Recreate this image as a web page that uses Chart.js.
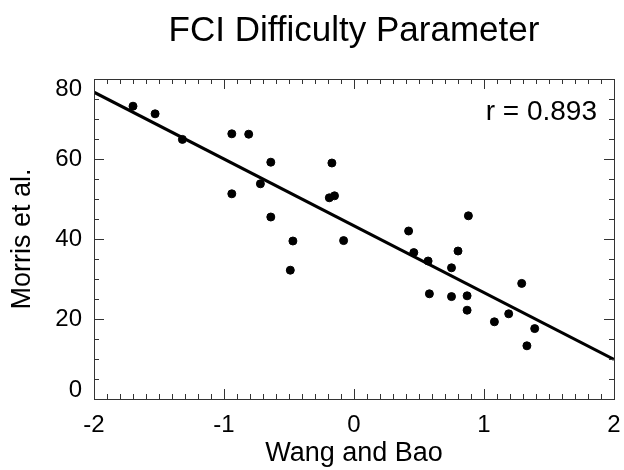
<!DOCTYPE html>
<html>
<head>
<meta charset="utf-8">
<script src="https://cdn.jsdelivr.net/npm/chart.js@4.4.1/dist/chart.umd.min.js"></script>
<style>
  html, body { margin: 0; padding: 0; background: #fff; }
  #wrap { width: 624px; height: 470px; }
</style>
</head>
<body>
<div id="wrap"><canvas id="c" width="624" height="470"></canvas></div>
<script>
// difficulty values, one per FCI item
const wangBao = [-1.70, -1.53, -1.32, -0.94, -0.81, -0.64, -0.72, -0.94, -0.17, -0.19,
                 -0.15, -0.64, -0.47, -0.08, -0.49, 0.42, 0.88, 0.46, 0.57, 0.80,
                 0.75, 0.58, 0.75, 0.87, 0.87, 1.29, 1.08, 1.19, 1.39, 1.33];
const morris  = [73.2, 71.3, 64.9, 66.3, 66.2, 59.2, 53.8, 51.3, 59.0, 50.3,
                 50.8, 45.5, 39.5, 39.6, 32.2, 42.0, 45.8, 36.6, 34.5, 37.0,
                 32.8, 26.3, 25.6, 25.8, 22.2, 28.9, 19.3, 21.3, 17.6, 13.3];
// fitted line, read at the plot edges
const fitX = [-2, 2];
const fitY = [76.7, 9.9];
const yTicks = [0, 20, 40, 60, 80];
const rLabel = 'r = 0.893';
const chartTitle = 'FCI Difficulty Parameter';

const FONT = '"Liberation Sans", Arial, Helvetica, sans-serif';

// inward tick marks on all four sides + box + y labels + texts
const frame = {
  id: 'frame',
  afterDraw(chart) {
    const ctx = chart.ctx;
    const xs = chart.scales.x, ys = chart.scales.y;
    const a = chart.chartArea;
    ctx.save();
    ctx.strokeStyle = '#333';
    ctx.lineWidth = 1;
    ctx.strokeRect(a.left + 0.5, a.top + 0.5, a.right - a.left, a.bottom - a.top);
    ctx.beginPath();
    for (let i = -20; i <= 20; i++) {
      const px = Math.round(xs.getPixelForValue(i / 10)) + 0.5;
      const len = i % 10 === 0 ? 10 : 5;
      ctx.moveTo(px, a.bottom); ctx.lineTo(px, a.bottom - len);
      ctx.moveTo(px, a.top); ctx.lineTo(px, a.top + len);
    }
    for (let v = 0; v <= 80; v += 5) {
      const py = Math.round(ys.getPixelForValue(v)) + 0.5;
      const len = v % 20 === 0 ? 10 : 5;
      ctx.moveTo(a.left, py); ctx.lineTo(a.left + len, py);
      ctx.moveTo(a.right, py); ctx.lineTo(a.right - len, py);
    }
    ctx.stroke();

    ctx.fillStyle = '#000';
    ctx.font = '24px ' + FONT;
    ctx.textAlign = 'right';
    ctx.textBaseline = 'middle';
    yTicks.forEach(v => {
      let py = ys.getPixelForValue(v);
      py = Math.min(Math.max(py, a.top + 10), a.bottom - 9);
      ctx.fillText(String(v), a.left - 12, py);
    });

    ctx.font = '28px ' + FONT;
    ctx.textBaseline = 'alphabetic';
    ctx.fillText(rLabel, 597, 120);

    // title, centred over the plot box
    ctx.font = '35px ' + FONT;
    ctx.textAlign = 'center';
    ctx.fillText(chartTitle, (a.left + a.right) / 2, 41);
    ctx.restore();
  }
};

new Chart(document.getElementById('c'), {
  type: 'scatter',
  data: {
    datasets: [
      {
        label: 'items',
        data: wangBao.map((x, i) => ({ x: x, y: morris[i] })),
        backgroundColor: '#000',
        borderColor: '#000',
        pointRadius: 4,
        pointHoverRadius: 4
      },
      {
        type: 'line',
        label: 'fit',
        data: fitX.map((x, i) => ({ x: x, y: fitY[i] })),
        borderColor: '#000',
        borderWidth: 3,
        pointRadius: 0,
        fill: false
      }
    ]
  },
  options: {
    responsive: false,
    animation: false,
    layout: { padding: { left: 0, right: 10, top: 79, bottom: 0 } },
    plugins: {
      legend: { display: false },
      tooltip: { enabled: false },
      title: { display: false }
    },
    scales: {
      x: {
        type: 'linear',
        min: -2, max: 2,
        grid: { display: false, drawTicks: false },
        border: { display: false },
        ticks: {
          stepSize: 1,
          padding: 12,
          color: '#000',
          font: { family: FONT, size: 24 },
          maxRotation: 0
        },
        title: {
          display: true,
          text: 'Wang and Bao',
          color: '#000',
          font: { family: FONT, size: 27 },
          padding: { top: 0, bottom: 0 }
        },
        afterFit(s) {
          s.height = 71;
          s.paddingLeft = 0;
          s.paddingRight = 0;
        }
      },
      y: {
        type: 'linear',
        min: 0, max: 80,
        grid: { display: false, drawTicks: false },
        border: { display: false },
        ticks: {
          stepSize: 20,
          display: false
        },
        title: {
          display: true,
          text: 'Morris et al.',
          color: '#000',
          font: { family: FONT, size: 27 },
          padding: { top: 6, bottom: 0 }
        },
        afterFit(s) { s.width = 94; }
      }
    }
  },
  plugins: [frame]
});
</script>
</body>
</html>
